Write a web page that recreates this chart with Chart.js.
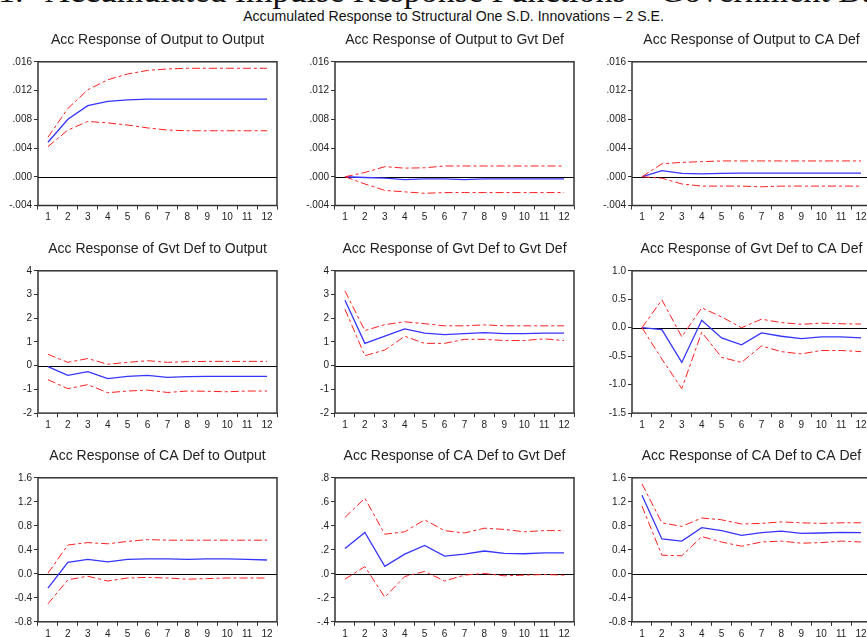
<!DOCTYPE html>
<html><head><meta charset="utf-8">
<script src="https://cdn.jsdelivr.net/npm/chart.js@4.4.1/dist/chart.umd.min.js"></script>
<style>
html,body{margin:0;padding:0;background:#fff;width:867px;height:637px;overflow:hidden;position:relative}
#main{position:absolute;left:-2px;top:-26px;font-family:'Liberation Serif','Times New Roman',serif;font-size:34px;line-height:34px;white-space:nowrap;color:#111}
#main span{margin-left:13px}
#sub{position:absolute;left:20px;width:867px;top:9px;text-align:center;font-family:'Liberation Sans Narrow','Arial Narrow','Liberation Sans',sans-serif;font-size:14.1px;line-height:14.4px;color:#111;white-space:nowrap}
canvas{position:absolute}
</style></head><body>
<div id="main">1. <span>Accumulated Impulse Response Functions – Government Budget Deficit</span></div>
<div id="sub">Accumulated Response to Structural One S.D. Innovations – 2 S.E.</div>
<script>
// ---------- data ----------
const periods = ['1','2','3','4','5','6','7','8','9','10','11','12'];

const titles = [
  'Acc Response of Output to Output','Acc Response of Output to Gvt Def','Acc Response of Output to CA Def',
  'Acc Response of Gvt Def to Output','Acc Response of Gvt Def to Gvt Def','Acc Response of Gvt Def to CA Def',
  'Acc Response of CA Def to Output','Acc Response of CA Def to Gvt Def','Acc Response of CA Def to CA Def'
];

// Output to Output
const outOutMid = [0.0048,0.0080,0.0099,0.0105,0.0107,0.0108,0.0108,0.0108,0.0108,0.0108,0.0108,0.0108];
const outOutUp  = [0.0055,0.0095,0.0121,0.0135,0.0143,0.0148,0.0150,0.0151,0.0151,0.0151,0.0151,0.0151];
const outOutLo  = [0.0042,0.0065,0.0077,0.0075,0.0072,0.0068,0.0065,0.0064,0.0064,0.0064,0.0064,0.0064];
// Output to Gvt Def
const outGvtMid = [0.0,-0.0001,-0.0002,-0.0004,-0.0003,-0.0003,-0.0004,-0.0003,-0.0003,-0.0003,-0.0003,-0.0003];
const outGvtUp  = [0.0,0.0006,0.0014,0.0012,0.00125,0.0015,0.0015,0.0015,0.0015,0.0015,0.0015,0.0015];
const outGvtLo  = [0.0,-0.0010,-0.0019,-0.0021,-0.0023,-0.0022,-0.0022,-0.0022,-0.0022,-0.0022,-0.0022,-0.0022];
// Output to CA Def
const outCaMid = [0.0,0.00084,0.00047,0.0004,0.00047,0.0005,0.0005,0.0005,0.0005,0.0005,0.0005,0.0005];
const outCaUp  = [0.0,0.0018,0.0020,0.0021,0.0022,0.0022,0.0022,0.0022,0.0022,0.0022,0.0022,0.0022];
const outCaLo  = [0.0,-0.0002,-0.0010,-0.0013,-0.0013,-0.0013,-0.0014,-0.0013,-0.0013,-0.0013,-0.0013,-0.0013];
// Gvt Def to Output
const gvtOutMid = [-0.04,-0.41,-0.25,-0.55,-0.45,-0.41,-0.49,-0.46,-0.45,-0.45,-0.45,-0.45];
const gvtOutUp  = [0.48,0.14,0.30,0.06,0.14,0.21,0.14,0.17,0.18,0.18,0.18,0.18];
const gvtOutLo  = [-0.59,-0.97,-0.80,-1.14,-1.07,-1.03,-1.13,-1.07,-1.08,-1.10,-1.07,-1.07];
// Gvt Def to Gvt Def
const gvtGvtMid = [2.76,0.94,1.25,1.55,1.37,1.31,1.35,1.39,1.35,1.35,1.37,1.37];
const gvtGvtUp  = [3.15,1.48,1.73,1.85,1.77,1.68,1.68,1.72,1.68,1.68,1.68,1.68];
const gvtGvtLo  = [2.38,0.42,0.66,1.24,0.94,0.94,1.11,1.11,1.06,1.06,1.13,1.06];
// Gvt Def to CA Def
const gvtCaMid = [0.0,-0.035,-0.61,0.13,-0.18,-0.30,-0.09,-0.15,-0.19,-0.16,-0.16,-0.18];
const gvtCaUp  = [0.0,0.49,-0.16,0.35,0.19,0.0,0.15,0.09,0.06,0.08,0.07,0.065];
const gvtCaLo  = [0.0,-0.55,-1.07,-0.08,-0.52,-0.61,-0.32,-0.42,-0.46,-0.40,-0.40,-0.42];
// CA Def to Output
const caOutMid = [-0.24,0.19,0.24,0.20,0.24,0.25,0.25,0.24,0.25,0.25,0.24,0.23];
const caOutUp  = [0.01,0.48,0.52,0.50,0.54,0.57,0.56,0.56,0.56,0.56,0.56,0.56];
const caOutLo  = [-0.50,-0.10,-0.04,-0.12,-0.07,-0.06,-0.07,-0.09,-0.08,-0.07,-0.07,-0.07];
// CA Def to Gvt Def
const caGvtMid = [0.21,0.345,0.062,0.164,0.237,0.147,0.164,0.19,0.17,0.167,0.175,0.175];
const caGvtUp  = [0.47,0.63,0.33,0.35,0.45,0.36,0.34,0.38,0.37,0.35,0.36,0.36];
const caGvtLo  = [-0.045,0.06,-0.195,-0.023,0.02,-0.06,-0.011,0.003,-0.017,-0.011,-0.006,-0.011];
// CA Def to CA Def
const caCaMid = [1.31,0.58,0.545,0.77,0.72,0.64,0.685,0.71,0.675,0.68,0.69,0.685];
const caCaUp  = [1.50,0.85,0.79,0.93,0.90,0.83,0.84,0.865,0.85,0.84,0.85,0.85];
const caCaLo  = [1.13,0.31,0.30,0.62,0.53,0.46,0.53,0.545,0.51,0.52,0.545,0.53];

// tick values and labels
const ticksOutVals = [-0.004,0,0.004,0.008,0.012,0.016];
const ticksOutLbls = ['-.004','.000','.004','.008','.012','.016'];
const ticksGvtVals = [-2,-1,0,1,2,3,4];
const ticksGvtLbls = ['-2','-1','0','1','2','3','4'];
const ticksGvtCaVals = [-1.5,-1,-0.5,0,0.5,1];
const ticksGvtCaLbls = ['-1.5','-1.0','-0.5','0.0','0.5','1.0'];
const ticksCaVals = [-0.8,-0.4,0,0.4,0.8,1.2,1.6];
const ticksCaLbls = ['-0.8','-0.4','0.0','0.4','0.8','1.2','1.6'];
const ticksCaGvtVals = [-0.4,-0.2,0,0.2,0.4,0.6,0.8];
const ticksCaGvtLbls = ['-.4','-.2','.0','.2','.4','.6','.8'];

// ---------- layout ----------
const colLeft = [0, 297, 594];
const rowTop = [32, 241, 448];
const rowPlotH = [143.7, 142.3, 144];
const Y_W = 38, PLOT_W = 239, PAD_R = 3, CANVAS_H = 194, TITLE_BLOCK = 14*1.2 + 13;

const panels = [
  [outOutMid,outOutUp,outOutLo,ticksOutVals,ticksOutLbls],
  [outGvtMid,outGvtUp,outGvtLo,ticksOutVals,ticksOutLbls],
  [outCaMid,outCaUp,outCaLo,ticksOutVals,ticksOutLbls],
  [gvtOutMid,gvtOutUp,gvtOutLo,ticksGvtVals,ticksGvtLbls],
  [gvtGvtMid,gvtGvtUp,gvtGvtLo,ticksGvtVals,ticksGvtLbls],
  [gvtCaMid,gvtCaUp,gvtCaLo,ticksGvtCaVals,ticksGvtCaLbls],
  [caOutMid,caOutUp,caOutLo,ticksCaVals,ticksCaLbls],
  [caGvtMid,caGvtUp,caGvtLo,ticksCaGvtVals,ticksCaGvtLbls],
  [caCaMid,caCaUp,caCaLo,ticksCaVals,ticksCaLbls]
];

const zeroPlugin = {
  id:'zeroLine',
  beforeDatasetsDraw(chart){
    const {ctx, chartArea:a, scales:{y}} = chart;
    const z = Math.round(y.getPixelForValue(0)) + 0.5;
    ctx.save(); ctx.strokeStyle='#000'; ctx.lineWidth=1;
    ctx.beginPath(); ctx.moveTo(a.left,z); ctx.lineTo(a.right,z); ctx.stroke();
    ctx.restore();
  },
  afterDatasetsDraw(chart){
    const {ctx, chartArea:a} = chart;
    ctx.save(); ctx.strokeStyle='#333'; ctx.lineWidth=1.5;
    ctx.strokeRect(a.left, a.top, a.right-a.left, a.bottom-a.top);
    ctx.restore();
  }
};

const RED = '#ff1f1f', BLUE = '#3535ff', FONT = "'Liberation Sans', Arial, sans-serif";

panels.forEach((p, i) => {
  const r = Math.floor(i/3), c = i%3;
  const [mid, up, lo, tv, tl] = p;
  const cv = document.createElement('canvas');
  const w = Y_W + PLOT_W + PAD_R;
  cv.width = w; cv.height = CANVAS_H;
  cv.style.left = colLeft[c] + 'px'; cv.style.top = rowTop[r] + 'px';
  cv.style.width = w + 'px'; cv.style.height = CANVAS_H + 'px';
  document.body.appendChild(cv);
  const xH = CANVAS_H - TITLE_BLOCK - rowPlotH[r];
  new Chart(cv, {
    type:'line',
    data:{ labels: periods, datasets:[
      {data: up, borderColor: RED, borderWidth: 1, borderDash:[8,3,3,3], pointRadius:0, fill:false, tension:0},
      {data: lo, borderColor: RED, borderWidth: 1, borderDash:[8,3,3,3], pointRadius:0, fill:false, tension:0},
      {data: mid, borderColor: BLUE, borderWidth: 1.3, pointRadius:0, fill:false, tension:0}
    ]},
    options:{
      responsive:false, animation:false, devicePixelRatio:1,
      layout:{padding:{left:0,right:PAD_R,top:0,bottom:0}},
      plugins:{
        legend:{display:false}, tooltip:{enabled:false},
        title:{display:true, text: titles[i], fullSize:false, color:'#222',
               font:{family:FONT, size:14, weight:'normal', lineHeight:1.2}, padding:{top:0,bottom:13}}
      },
      scales:{
        x:{ type:'category', offset:true,
            grid:{offset:true, drawOnChartArea:false, tickLength:4, color:'#333', lineWidth:1},
            border:{display:false},
            ticks:{padding:2, color:'#222', font:{family:FONT, size:10}, maxRotation:0, autoSkip:false},
            afterFit(s){ s.height = xH; } },
        y:{ min: tv[0], max: tv[tv.length-1],
            afterBuildTicks(s){ s.ticks = tv.map(v => ({value:v})); },
            grid:{drawOnChartArea:false, tickLength:4, color:'#333', lineWidth:1},
            border:{display:false},
            ticks:{padding:2, color:'#222', font:{family:FONT, size:10}, callback:(v, idx) => tl[idx]},
            afterFit(s){ s.width = Y_W; } }
      }
    },
    plugins:[zeroPlugin]
  });
});
</script>
</body></html>
